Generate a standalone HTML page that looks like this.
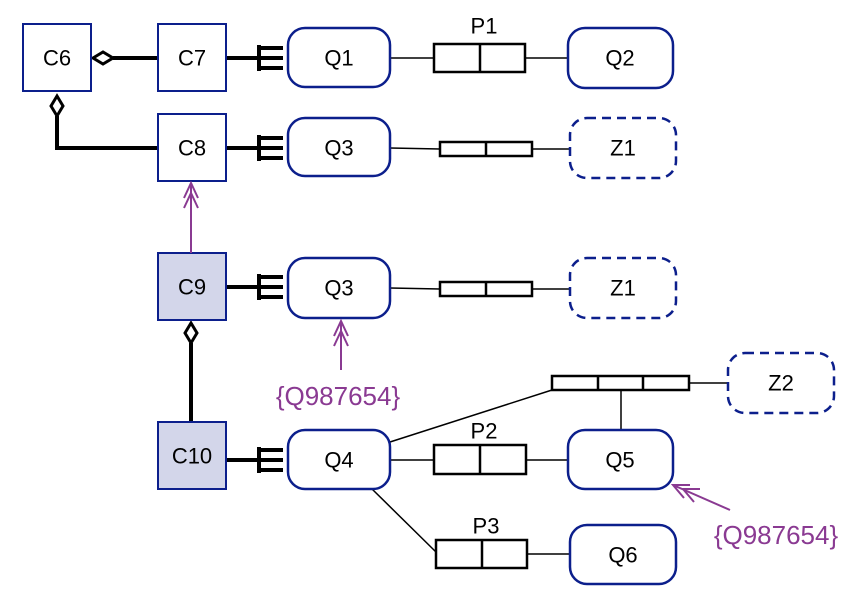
<!DOCTYPE html>
<html><head><style>
html,body{margin:0;padding:0;background:#fff;}
svg{display:block;}
text{font-family:"Liberation Sans",Arial,sans-serif;font-size:22px;fill:#000;text-anchor:middle;dominant-baseline:central;}
.b{fill:#fff;stroke:#0c1f8c;stroke-width:2;}
.bf{fill:#d3d6ea;stroke:#0c1f8c;stroke-width:2;}
.r{fill:#fff;stroke:#0c1f8c;stroke-width:2.5;}
.d{fill:#fff;stroke:#0c1f8c;stroke-width:2.5;stroke-dasharray:9,6;}
.t{stroke:#000;stroke-width:4;fill:none;}
.l{stroke:#000;stroke-width:1.5;fill:none;}
.p{fill:#fff;stroke:#000;stroke-width:2.5;}
.pu{stroke:#8a3a92;stroke-width:2;fill:none;}
text.pt{fill:#8a3a92;font-size:26px;}
</style></head><body>
<svg width="862" height="600" viewBox="0 0 862 600">
<path class="t" d="M113 58 H158"/>
<polygon points="93,58 103,52 113,58 103,64" fill="#fff" stroke="#000" stroke-width="3"/>
<path class="t" d="M57 116 V148 H158"/>
<polygon points="57,96 63,106 57,116 51,106" fill="#fff" stroke="#000" stroke-width="3"/>
<path class="t" d="M191 343 V422"/>
<polygon points="191,323 197,333 191,343 185,333" fill="#fff" stroke="#000" stroke-width="3"/>
<g>
<path class="t" d="M226 58 H283 M259 45 V71 M259 48 H283 M259 68 H283"/>
<path class="t" d="M226 148 H283 M259 135 V161 M259 138 H283 M259 158 H283"/>
<path class="t" d="M226 287 H283 M259 274 V300 M259 277 H283 M259 297 H283"/>
<path class="t" d="M226 460 H283 M259 447 V473 M259 450 H283 M259 470 H283"/>
</g>
<path class="l" d="M390 58 H434 M525 58 H568"/>
<path class="l" d="M390 148 L440 149 M532 149 H570"/>
<path class="l" d="M390 288 L440 289 M532 289 H570"/>
<path class="l" d="M390 442 L552 390 M689 383 H728 M621 390 V430"/>
<path class="l" d="M390 460 H434 M526 460 H568"/>
<path class="l" d="M372 489 L436 552 M527 554 H570"/>
<rect class="b" x="23" y="24" width="68" height="67"/><text x="57" y="58">C6</text>
<rect class="b" x="158" y="24" width="68" height="67"/><text x="192" y="58">C7</text>
<rect class="b" x="158" y="114" width="68" height="67"/><text x="192" y="148">C8</text>
<rect class="bf" x="158" y="253" width="68" height="67"/><text x="192" y="287">C9</text>
<rect class="bf" x="158" y="422" width="68" height="67"/><text x="192" y="456">C10</text>
<rect class="r" x="288" y="28" width="102" height="59" rx="17"/><text x="339" y="58">Q1</text>
<rect class="r" x="288" y="118" width="102" height="58" rx="17"/><text x="339" y="148">Q3</text>
<rect class="r" x="288" y="258" width="102" height="60" rx="17"/><text x="339" y="288">Q3</text>
<rect class="r" x="288" y="430" width="102" height="59" rx="17"/><text x="339" y="460">Q4</text>
<rect class="r" x="568" y="28" width="105" height="60" rx="17"/><text x="620" y="58">Q2</text>
<rect class="r" x="568" y="430" width="105" height="59" rx="17"/><text x="620" y="460">Q5</text>
<rect class="r" x="570" y="525" width="106" height="59" rx="17"/><text x="623" y="555">Q6</text>
<rect class="d" x="570" y="118" width="106" height="60" rx="17"/><text x="623" y="148">Z1</text>
<rect class="d" x="570" y="258" width="106" height="60" rx="17"/><text x="623" y="288">Z1</text>
<rect class="d" x="728" y="353" width="106" height="60" rx="17"/><text x="781" y="383">Z2</text>
<rect class="p" x="434" y="44" width="91" height="28"/><path class="p" d="M480 44 V72"/><text x="484" y="26">P1</text>
<rect class="p" x="440" y="142" width="92" height="14"/><path class="p" d="M486 142 V156"/>
<rect class="p" x="440" y="282" width="92" height="14"/><path class="p" d="M486 282 V296"/>
<rect class="p" x="552" y="376" width="137" height="14"/><path class="p" d="M598 376 V390 M643 376 V390"/>
<rect class="p" x="434" y="445" width="92" height="29"/><path class="p" d="M480 445 V474"/><text x="484" y="431">P2</text>
<rect class="p" x="436" y="540" width="91" height="28"/><path class="p" d="M482 540 V568"/><text x="486" y="526">P3</text>
<path class="pu" d="M191 253 V183 M184 198 L191 183 L198 198 M184 208 L191 193 L198 208"/>
<path class="pu" d="M341 370 V321 M334 336 L341 321 L348 336 M334 346 L341 331 L348 346"/>
<path class="pu" d="M730 510 L673 485 M684 498 L673 485 L690 485 M694 502 L683 489 L700 489"/>
<text class="pt" x="338" y="396">{Q987654}</text>
<text class="pt" x="776" y="535">{Q987654}</text>
</svg>
</body></html>
